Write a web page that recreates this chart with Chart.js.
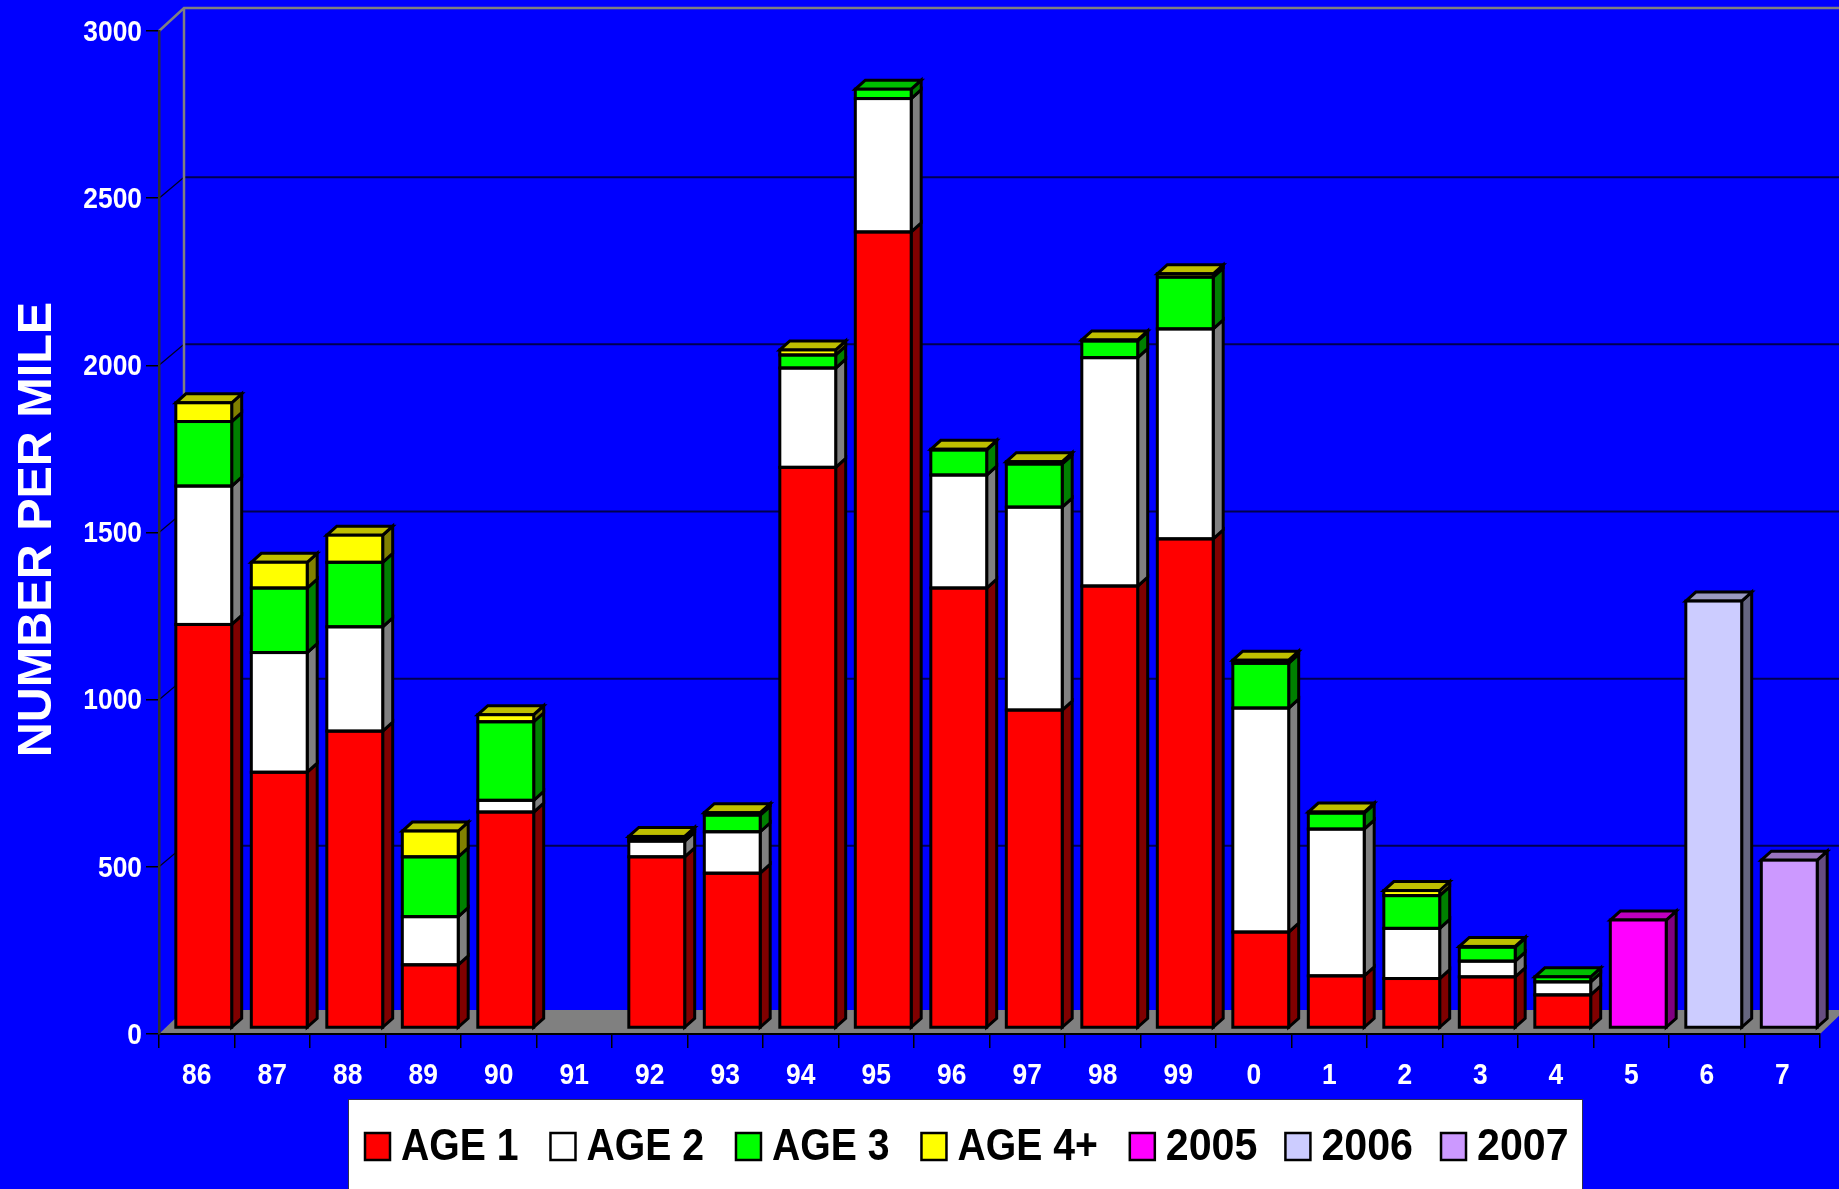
<!DOCTYPE html>
<html>
<head>
<meta charset="utf-8">
<style>html,body{margin:0;padding:0;background:#0000ff;overflow:hidden}canvas{display:block}</style>
<script src="https://cdn.jsdelivr.net/npm/chart.js@4"></script>
</head>
<body>
<canvas id="c" width="1839" height="1189"></canvas>
<script>
const categories = ['86','87','88','89','90','91','92','93','94','95','96','97','98','99','0','1','2','3','4','5','6','7'];
const age1 = [1207,765,888,189,646,null,512,463,1677,2381,1316,951,1322,1463,287,156,148,153,99,null,null,null];
const age2 = [414,358,312,144,35,null,47,124,297,399,338,607,683,628,670,439,150,47,39,null,null,null];
const age3 = [193,193,193,179,235,null,8,50,39,28,75,129,50,155,134,48,98,42,15,null,null,null];
const age4 = [56,77,81,77,21,null,6,7,15,null,2,7,3,10,9,3,15,2,null,null,null,null];
const y2005 = [null,null,null,null,null,null,null,null,null,null,null,null,null,null,null,null,null,null,null,323,null,null];
const y2006 = [null,null,null,null,null,null,null,null,null,null,null,null,null,null,null,null,null,null,null,null,1277,null];
const y2007 = [null,null,null,null,null,null,null,null,null,null,null,null,null,null,null,null,null,null,null,null,null,502];
const seriesLabels = ['AGE 1','AGE 2','AGE 3','AGE 4+','2005','2006','2007'];
const seriesColors = ['#ff0000','#ffffff','#00ff00','#ffff00','#ff00ff','#ccccff','#cc99ff'];
const yTicks = [0,500,1000,1500,2000,2500,3000];
const seriesValues = [age1,age2,age3,age4,y2005,y2006,y2007];

const WALL = {dx:25, dy:-21, top:8, floorY:1010};
const BAR = {dx:7, dy:-6, sx:10, sy:-9};
const FONT = '"Liberation Sans",Arial,sans-serif';
const TITLE_SIZE = 48.5;
const TICK_SQUEEZE = 0.88;
const LEGEND_WORD_SQUEEZE = 0.87;
const LEGEND_YEAR_SQUEEZE = 0.915;

function isYear(text){ return /^\d+$/.test(text); }
function legendSqueeze(text){
  return isYear(text) ? LEGEND_YEAR_SQUEEZE : LEGEND_WORD_SQUEEZE;
}
function shade(hex, f){
  const n = parseInt(hex.slice(1),16);
  const c = s => Math.round(((n>>s)&255)*f);
  return `rgb(${c(16)},${c(8)},${c(0)})`;
}
function quad(ctx, pts, fill){
  ctx.beginPath();
  pts.forEach((p,i)=> i? ctx.lineTo(p[0],p[1]) : ctx.moveTo(p[0],p[1]));
  ctx.closePath();
  ctx.fillStyle = fill;
  ctx.fill();
  ctx.stroke();
}
function barRect(el){
  const h = el.getProps(['x','y','base','width'], true);
  return {l:h.x-h.width/2, r:h.x+h.width/2, t:Math.min(h.y,h.base), b:Math.max(h.y,h.base)};
}

const canvas = document.getElementById('c');
const context = canvas.getContext('2d');
// The reference's labels are horizontally condensed Arial: squeeze every label except the axis title.
const plainFillText = context.fillText.bind(context);
context.fillText = function(text, x, y){
  const f = context.font;
  if(f.indexOf(TITLE_SIZE+'px')>=0){
    plainFillText(text, x+3, y);
  } else {
    const k = f.indexOf('45px')>=0 ? legendSqueeze(text) : TICK_SQUEEZE;
    plainFillText(text, x, y, context.measureText(text).width*k);
  }
};

const threeD = {
  id:'threeD',
  beforeDraw(chart){
    const {ctx, scales:{x,y}} = chart;
    const x0 = x.left, x1 = x.right, yb = y.bottom;
    ctx.save();
    // floor
    ctx.fillStyle = '#808080';
    ctx.beginPath();
    ctx.moveTo(x0,yb); ctx.lineTo(x0+WALL.dx,WALL.floorY);
    ctx.lineTo(x1+WALL.dx,WALL.floorY); ctx.lineTo(x1,yb);
    ctx.closePath(); ctx.fill();
    // back wall grid
    yTicks.forEach(v=>{
      if(v===0||v===3000) return;
      const p = y.getPixelForValue(v);
      ctx.strokeStyle = '#000050'; ctx.lineWidth = 2;
      ctx.beginPath(); ctx.moveTo(x0+WALL.dx,p+WALL.dy); ctx.lineTo(chart.width,p+WALL.dy); ctx.stroke();
      ctx.strokeStyle = '#000020'; ctx.lineWidth = 1.2;
      ctx.beginPath(); ctx.moveTo(x0,p); ctx.lineTo(x0+WALL.dx,p+WALL.dy); ctx.stroke();
    });
    // wall frame
    ctx.strokeStyle = '#808080'; ctx.lineWidth = 2.5;
    const ty = y.getPixelForValue(3000);
    ctx.beginPath();
    ctx.moveTo(x0,ty); ctx.lineTo(x0+WALL.dx,WALL.top);
    ctx.lineTo(chart.width,WALL.top);
    ctx.moveTo(x0+WALL.dx,WALL.top); ctx.lineTo(x0+WALL.dx,WALL.floorY);
    ctx.stroke();
    // legend panel
    ctx.fillStyle = '#ffffff'; ctx.strokeStyle = '#303050'; ctx.lineWidth = 1;
    ctx.fillRect(348.5,1099.5,1234,100);
    ctx.strokeRect(348.5,1099.5,1234,100);
    let lx = 365;
    ctx.font = 'bold 45px '+FONT;
    ctx.textBaseline = 'alphabetic'; ctx.textAlign = 'left';
    chart.data.datasets.forEach(ds=>{
      ctx.fillStyle = ds.backgroundColor; ctx.strokeStyle = '#000'; ctx.lineWidth = 2.5;
      ctx.fillRect(lx,1133,25,27); ctx.strokeRect(lx,1133,25,27);
      ctx.fillStyle = '#000';
      ctx.fillText(ds.label,lx+36,1160);
      lx += 36 + ctx.measureText(ds.label).width*legendSqueeze(ds.label) + (isYear(ds.label) ? 28 : 32);
    });
    ctx.restore();
  },
  beforeDatasetsDraw(chart){
    const {ctx} = chart;
    ctx.save();
    ctx.translate(BAR.dx,BAR.dy);
    ctx.strokeStyle = '#000'; ctx.lineWidth = 3; ctx.lineJoin = 'miter';
    const tops = {};
    chart.data.datasets.forEach((ds,di)=>{
      const meta = chart.getDatasetMeta(di);
      meta.data.forEach((el,i)=>{
        if(ds.data[i]===null) return;
        const r = barRect(el);
        tops[i] = {r, color:ds.backgroundColor};
        quad(ctx,[[r.r,r.t],[r.r+BAR.sx,r.t+BAR.sy],[r.r+BAR.sx,r.b+BAR.sy],[r.r,r.b]],shade(ds.backgroundColor,.5));
      });
    });
    Object.values(tops).forEach(({r,color})=>{
      quad(ctx,[[r.l,r.t],[r.l+BAR.sx,r.t+BAR.sy],[r.r+BAR.sx,r.t+BAR.sy],[r.r,r.t]],shade(color,.75));
    });
  },
  afterDatasetsDraw(chart){
    const {ctx} = chart;
    ctx.strokeStyle = '#000'; ctx.lineWidth = 3;
    chart.data.datasets.forEach((ds,di)=>{
      chart.getDatasetMeta(di).data.forEach((el,i)=>{
        if(ds.data[i]===null) return;
        const r = barRect(el);
        ctx.strokeRect(r.l,r.t,r.r-r.l,r.b-r.t);
      });
    });
    ctx.restore();
  }
};

new Chart(context,{
  type:'bar',
  data:{
    labels:categories,
    datasets:seriesValues.map((values,i)=>({
      label:seriesLabels[i],
      data:values,
      backgroundColor:seriesColors[i],
      borderWidth:0,
      clip:false,
      barPercentage:.74,
      categoryPercentage:1,
      stack:'s'
    }))
  },
  options:{
    responsive:false,
    animation:false,
    events:[],
    layout:{padding:{left:0,right:19,top:31,bottom:75}},
    plugins:{legend:{display:false},title:{display:false},tooltip:{enabled:false}},
    scales:{
      x:{
        stacked:true,
        afterFit(s){s.height=80;},
        grid:{offset:true,drawOnChartArea:false,drawTicks:true,tickLength:14,color:'#000',lineWidth:1.5},
        border:{color:'#000',width:2},
        ticks:{color:'#fff',font:{family:FONT,weight:'bold',size:30},padding:10,maxRotation:0,autoSkip:false}
      },
      y:{
        stacked:true,
        min:0,max:3000,
        afterFit(s){s.width=159;},
        afterBuildTicks(s){s.ticks=yTicks.map(v=>({value:v}));},
        grid:{drawOnChartArea:false,drawTicks:true,tickLength:13,color:'#000',lineWidth:1.5},
        border:{color:'#303030',width:2.5},
        title:{display:true,text:'NUMBER PER MILE',color:'#fff',font:{family:FONT,weight:'bold',size:TITLE_SIZE},padding:{top:9,bottom:0}},
        ticks:{color:'#fff',font:{family:FONT,weight:'bold',size:30},padding:4,labelOffset:1.5,callback:v=>String(v)}
      }
    }
  },
  plugins:[threeD]
});
</script>
</body>
</html>
